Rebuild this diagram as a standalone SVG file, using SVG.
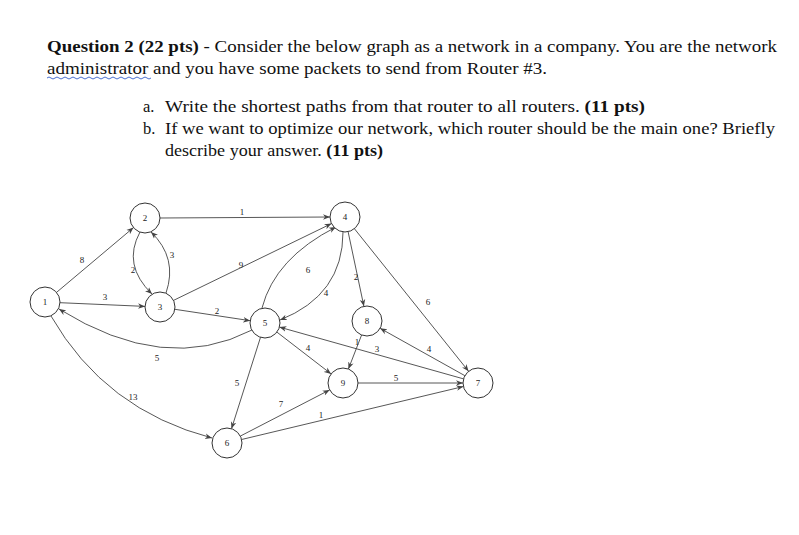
<svg xmlns="http://www.w3.org/2000/svg" width="799" height="535" viewBox="0 0 799 535">
<style>
.q{font-family:"Liberation Serif",serif;font-size:16.5px;fill:#111}
.n circle{fill:#fff;stroke:#333;stroke-width:1}
.n text,.l{font-family:"Liberation Serif",serif;font-size:9px;fill:#222;text-anchor:middle}
#edges path,#edges line{stroke:#444;stroke-width:0.9;fill:none;marker-end:url(#a)}
</style>
<defs><marker id="a" viewBox="0 0 10 10" refX="10" refY="5" markerWidth="7" markerHeight="7" orient="auto" markerUnits="userSpaceOnUse"><path d="M0,1 L10,5 L0,9 L3,5 z" fill="#444"/></marker></defs>
<rect width="799" height="535" fill="#fff"/>
<text class="q" x="47" y="52" textLength="730" lengthAdjust="spacingAndGlyphs"><tspan font-weight="bold">Question 2 (22 pts)</tspan> - Consider the below graph as a network in a company. You are the network</text>
<text class="q" x="47" y="74" textLength="500" lengthAdjust="spacingAndGlyphs">administrator and you have some packets to send from Router #3.</text>
<path d="M47,78 q2,-2 4,0 t4,0 t4,0 t4,0 t4,0 t4,0 t4,0 t4,0 t4,0 t4,0 t4,0 t4,0 t4,0 t4,0 t4,0 t4,0 t4,0 t4,0 t4,0 t4,0 t4,0 t4,0 t4,0 t4,0 t4,0 t4,0" stroke="#4a6fd0" stroke-width="1" fill="none"/>
<text class="q" x="143" y="112">a.</text>
<text class="q" x="165" y="112" textLength="480" lengthAdjust="spacingAndGlyphs">Write the shortest paths from that router to all routers. <tspan font-weight="bold">(11 pts)</tspan></text>
<text class="q" x="143" y="134">b.</text>
<text class="q" x="165" y="134" textLength="610" lengthAdjust="spacingAndGlyphs">If we want to optimize our network, which router should be the main one? Briefly</text>
<text class="q" x="165" y="156" textLength="218" lengthAdjust="spacingAndGlyphs">describe your answer. <tspan font-weight="bold">(11 pts)</tspan></text>
<g id="edges">
<line x1="56.5" y1="292.4" x2="133.5" y2="227.6"/>
<line x1="60" y1="302.7" x2="145" y2="306.4"/>
<line x1="160" y1="218" x2="330" y2="217"/>
<path d="M140,232 Q122,265 152,294"/>
<path d="M166,293 Q178,258 151,232"/>
<line x1="173.5" y1="300.4" x2="331.5" y2="223.6"/>
<line x1="174.9" y1="309.3" x2="250.2" y2="320.7"/>
<path d="M252,330 Q165,375 59,309"/>
<path d="M51,316 Q105,410 212,438"/>
<path d="M262,308 Q275,258 336,227"/>
<path d="M343,232 Q343,295 280,320"/>
<line x1="348.1" y1="231.7" x2="363.9" y2="306.3"/>
<line x1="354.4" y1="228.7" x2="468.6" y2="371.3"/>
<line x1="276.9" y1="332.1" x2="331.1" y2="373.9"/>
<line x1="260.5" y1="337.3" x2="231.5" y2="428.7"/>
<line x1="361.6" y1="335" x2="348.4" y2="369"/>
<line x1="463.6" y1="378.9" x2="279.4" y2="327.1"/>
<line x1="464.9" y1="375.7" x2="380.1" y2="328.3"/>
<line x1="358" y1="383" x2="463" y2="383"/>
<line x1="240.3" y1="436.1" x2="329.7" y2="389.9"/>
<line x1="241.6" y1="439.5" x2="463.4" y2="386.5"/>
</g>
<g id="labels">
<text class="l" x="82" y="263">8</text><text class="l" x="105" y="300">3</text><text class="l" x="242" y="215">1</text>
<text class="l" x="133" y="273">2</text><text class="l" x="172" y="258">3</text><text class="l" x="241" y="268">9</text>
<text class="l" x="217" y="314">2</text><text class="l" x="157" y="361">5</text><text class="l" x="133" y="400">13</text>
<text class="l" x="308" y="273">6</text><text class="l" x="326" y="296">4</text><text class="l" x="356" y="280">2</text>
<text class="l" x="428" y="305">6</text><text class="l" x="308" y="351">4</text><text class="l" x="237" y="386">5</text>
<text class="l" x="357" y="345">1</text><text class="l" x="377" y="352">3</text><text class="l" x="429" y="352">4</text>
<text class="l" x="396" y="381">5</text><text class="l" x="281" y="407">7</text><text class="l" x="321" y="418">1</text>
</g>
<g id="n1" class="n"><circle cx="45" cy="302" r="15"/><text x="45" y="305">1</text></g>
<g id="n2" class="n"><circle cx="145" cy="218" r="15"/><text x="145" y="221">2</text></g>
<g id="n3" class="n"><circle cx="160" cy="307" r="15"/><text x="160" y="310">3</text></g>
<g id="n4" class="n"><circle cx="345" cy="217" r="15"/><text x="345" y="220">4</text></g>
<g id="n5" class="n"><circle cx="265" cy="323" r="15"/><text x="265" y="326">5</text></g>
<g id="n6" class="n"><circle cx="227" cy="443" r="15"/><text x="227" y="446">6</text></g>
<g id="n7" class="n"><circle cx="478" cy="383" r="15"/><text x="478" y="386">7</text></g>
<g id="n8" class="n"><circle cx="367" cy="321" r="15"/><text x="367" y="324">8</text></g>
<g id="n9" class="n"><circle cx="343" cy="383" r="15"/><text x="343" y="386">9</text></g>
</svg>
